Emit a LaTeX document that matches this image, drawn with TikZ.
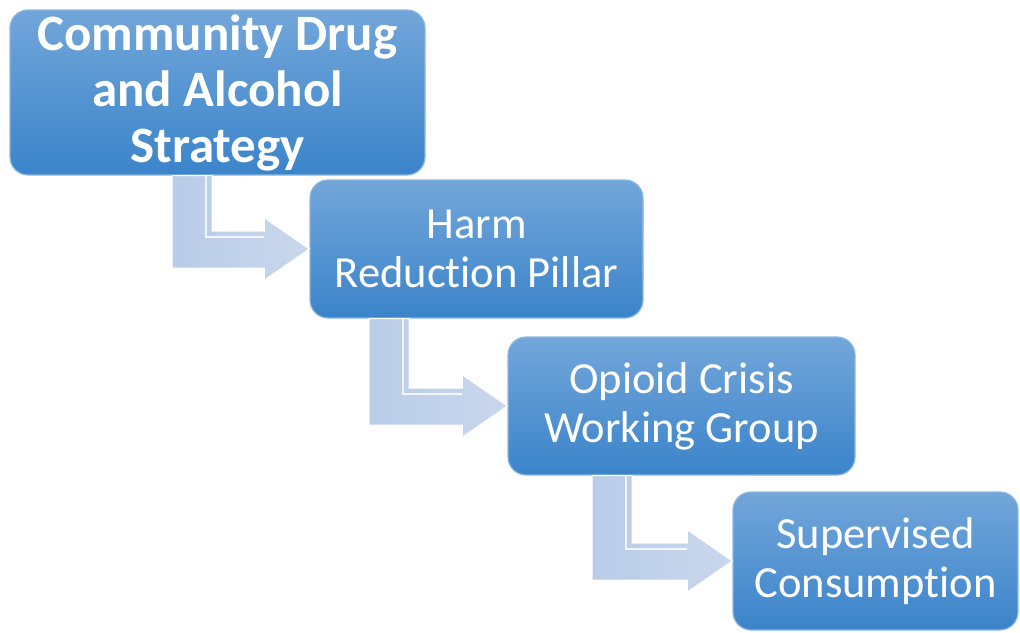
\documentclass[tikz,border=0pt]{standalone}
\usepackage{fontspec}
\setmainfont{Carlito}[Ligatures={NoCommon,NoRare,NoContextual},RawFeature={-liga;-clig;-dlig;-calt}]
\usetikzlibrary{calc}
\definecolor{boxtop}{HTML}{72A6DA}
\definecolor{boxbot}{HTML}{3B84CA}
\definecolor{boxedge}{HTML}{8DB7E2}
\definecolor{arrl}{HTML}{B9CCE8}
\definecolor{arrr}{HTML}{C9D7EC}
\tikzset{
  stagebox/.style={rounded corners=18pt, top color=boxtop, bottom color=boxbot,
    draw=boxedge, line width=1.2pt, text=white, align=center, inner sep=0pt},
  bigtext/.style={font={\fontsize{51}{56}\selectfont\bfseries}},
  midtext/.style={font={\fontsize{44.5}{49}\selectfont}},
  bentarrowstyle/.style={left color=arrl, right color=arrr, draw=white, line width=1pt}
}
\newcommand{\bentarr}[3]{%
  \path[bentarrowstyle] let \p1=(#1.south), \p2=(#2.west) in
    ({#3pt-20pt},\y1) -- ({#3pt+20pt},\y1) -- ({#3pt+20pt},{\y2+18pt})
    -- ({\x2-45pt},{\y2+18pt}) -- ({\x2-45pt},{\y2+31pt}) -- (\x2,\y2)
    -- ({\x2-45pt},{\y2-31pt}) -- ({\x2-45pt},{\y2-19pt}) -- ({#3pt-20pt},{\y2-19pt}) -- cycle;
  \draw[white, opacity=0.8, line width=1.5pt] let \p1=(#1.south), \p2=(#2.west) in
    ({#3pt+14pt},\y1) -- ({#3pt+14pt},{\y2+12pt}) -- ({\x2-45pt},{\y2+12pt});
}
\begin{document}
\begin{tikzpicture}[x=1pt,y=-1pt]
\useasboundingbox (0,0) rectangle (1020,632);
\node[stagebox, bigtext, minimum width=415pt, minimum height=165pt] (b1) at (217.5,92.5)
  {Community Drug\\and Alcohol\\Strategy};
\node[stagebox, midtext, minimum width=333pt, minimum height=138pt] (b2) at (476.5,249)
  {Harm\\Reduction Pillar};
\node[stagebox, midtext, minimum width=347pt, minimum height=138pt] (b3) at (681.5,406)
  {Opioid Crisis\\Working Group};
\node[stagebox, midtext, minimum width=285pt, minimum height=138pt] (b4) at (875.5,561)
  {Supervised\\Consumption};
\bentarr{b1}{b2}{192}
\bentarr{b2}{b3}{389}
\bentarr{b3}{b4}{612}
\end{tikzpicture}
\end{document}
